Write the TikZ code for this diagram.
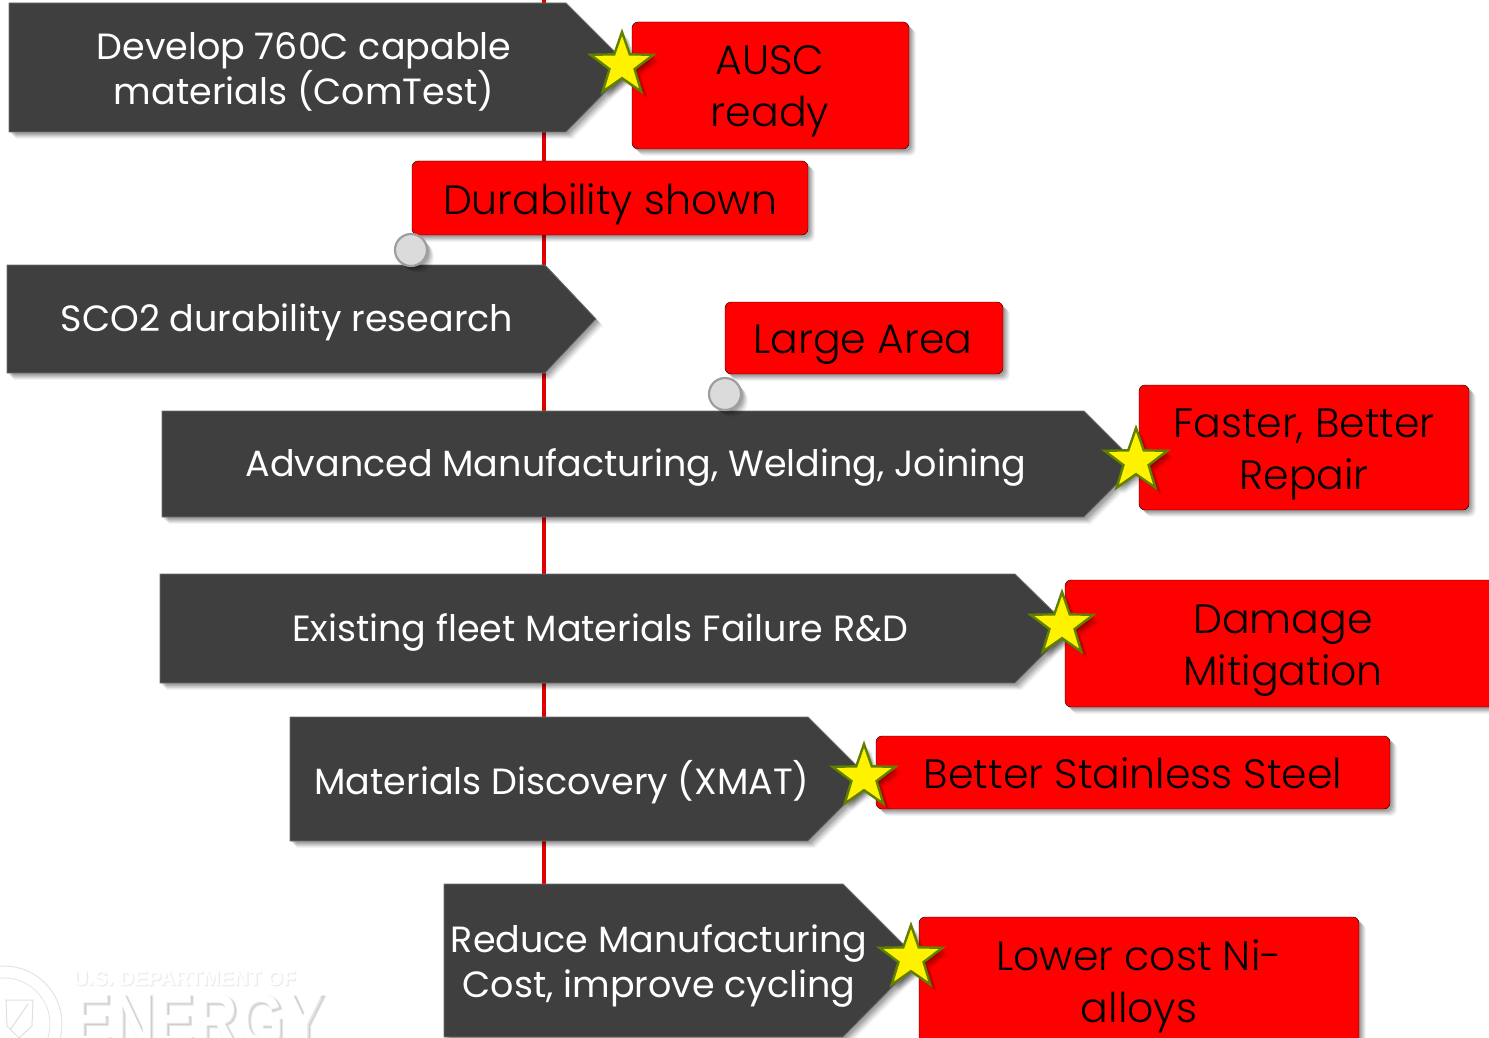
\documentclass[tikz,border=0pt]{standalone}
\usepackage{fontspec}
\usetikzlibrary{shadows,shapes.geometric}
\setmainfont{Poppins}
\newfontfamily\goalfont{Poppins Light}
\newfontfamily\logofont[FakeStretch=.83]{Liberation Sans Bold}
\newfontfamily\logohalo[FakeStretch=.83,FakeBold=3]{Liberation Sans Bold}
\newfontfamily\logosmallfont{Liberation Sans Bold}
\newfontfamily\logosmallhalo[FakeBold=2]{Liberation Sans Bold}
\definecolor{chev}{HTML}{3F3F3F}
\definecolor{starline}{HTML}{5F8000}
\definecolor{axisred}{HTML}{E00000}
\tikzset{
 softshadow/.style={general shadow={shadow xshift=7,shadow yshift=7,fill=black,opacity=.04},
   general shadow={shadow xshift=6,shadow yshift=6,fill=black,opacity=.06},
   general shadow={shadow xshift=5,shadow yshift=5,fill=black,opacity=.07},
   general shadow={shadow xshift=4,shadow yshift=4,fill=black,opacity=.08},
   general shadow={shadow xshift=3,shadow yshift=3,fill=black,opacity=.09},
   general shadow={shadow xshift=2,shadow yshift=2,fill=black,opacity=.09}},
 chevron/.style={fill=chev,draw=chev!75!white,line width=.8pt,softshadow},
 chevtext/.style={text=white,font=\fontsize{36.5}{45}\selectfont,align=center,inner sep=0},
 goal/.style={fill=red,rounded corners=6pt,softshadow},
 goaltext/.style={text=black,align=center,inner sep=0,font=\goalfont\fontsize{41}{52}\selectfont},
 starmark/.style={star,star points=5,star point ratio=2.5,minimum size=66pt,inner sep=0,fill=yellow,draw=starline,line width=2.4pt,softshadow},
 dotmark/.style={circle,minimum size=32pt,inner sep=0,fill=black!14,draw=black!38,line width=2.2pt,softshadow},
}
\begin{document}
\begin{tikzpicture}[x=1pt,y=-1pt]
\useasboundingbox (0,0) rectangle (1489,1038);
% logo
\node (sealouter) [circle,minimum size=116pt,draw=black!11,line width=1pt,inner sep=0] at (4,1024) {};
\node (sealinner) [circle,minimum size=92pt,draw=black!11,line width=.8pt,inner sep=0] at (4,1024) {};
\draw[black!13,line width=1pt] (6,1000) -- (33,1000) -- (32,1026) -- (19,1038) -- (7,1026) -- cycle (10,1030) -- (28,1004);
\node (energyhalo) [anchor=base west,inner sep=0,text=black,opacity=.10,font=\logohalo\fontsize{72}{72}\selectfont] at (73,1046) {ENERGY};
\node (usdoehalo) [anchor=west,inner sep=0,text=black,opacity=.06,font=\logosmallhalo\fontsize{20.7}{21}\selectfont] at (74,979) {U.S. DEPARTMENT OF};
\node (energy) [anchor=base west,inner sep=0,text=white,font=\logofont\fontsize{72}{72}\selectfont] at (71,1044) {ENERGY};
\node (usdoe) [anchor=west,inner sep=0,text=white,font=\logosmallfont\fontsize{20.7}{21}\selectfont] at (73,978) {U.S. DEPARTMENT OF};
% timeline
\coordinate (lineTop) at (544,0);
\coordinate (lineEnd) at (544,884);
\draw[axisred,line width=3.4pt] (lineTop) -- (lineEnd);
% chevrons
\draw[chevron] (9,3) -- (566,3) -- (630,67) -- (566,132) -- (9,132) -- cycle;
\node (c1) [chevtext] at (304,72) {Develop 760C capable\\materials (ComTest)};
\draw[chevron] (7,265) -- (545,265) -- (596,319) -- (545,373) -- (7,373) -- cycle;
\node (c2) [chevtext] at (287,322) {SCO2 durability research};
\draw[chevron] (162,411) -- (1084,411) -- (1137,464) -- (1084,517) -- (162,517) -- cycle;
\node (c3) [chevtext] at (636,467) {Advanced Manufacturing, Welding, Joining};
\draw[chevron] (160,574) -- (1015,574) -- (1070,628) -- (1015,683) -- (160,683) -- cycle;
\node (c4) [chevtext] at (600,632) {Existing fleet Materials Failure R\&D};
\draw[chevron] (290,717) -- (808,717) -- (870,779) -- (808,841) -- (290,841) -- cycle;
\node (c5) [chevtext] at (562,782) {Materials Discovery (XMAT)};
\draw[chevron] (444,884) -- (843,884) -- (919,960) -- (843,1037) -- (444,1037) -- cycle;
\node (c6) [chevtext] at (659,966) {Reduce Manufacturing\\Cost, improve cycling};
% goals
\draw[goal] (632,22) rectangle (909,149);
\node (g1) [goaltext] at (770,91) {AUSC\\ready};
\draw[goal] (412,161) rectangle (808,235);
\node (g2) [goaltext] at (610,204) {Durability shown};
\draw[goal] (725,302) rectangle (1003,374);
\node (g3) [goaltext] at (863,345) {Large Area};
\draw[goal] (1139,385) rectangle (1469,510);
\node (g4) [goaltext] at (1304,454) {Faster, Better\\Repair};
\draw[goal] (1065,580) rectangle (1500,707);
\node (g5) [goaltext] at (1283,651) {Damage\\Mitigation};
\draw[goal] (876,736) rectangle (1390,809);
\node (g6) [goaltext] at (1133,773) {Better Stainless Steel};
\draw[goal] (919,917) rectangle (1359,1050);
\node (g7) [goaltext] at (1139,986) {Lower cost Ni-\\alloys};
% markers
\node (s1) [starmark] at (622,65) {};
\node (s2) [starmark] at (1136,461) {};
\node (s3) [starmark] at (1062,625) {};
\node (s4) [starmark] at (864,777) {};
\node (s5) [starmark] at (911,958) {};
\node (d1) [dotmark] at (411,250) {};
\node (d2) [dotmark] at (725,394) {};
\end{tikzpicture}
\end{document}
